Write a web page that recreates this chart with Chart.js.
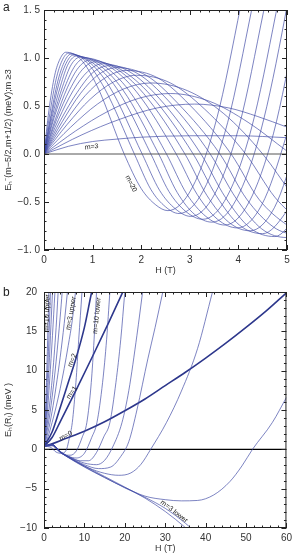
<!DOCTYPE html>
<html>
<head>
<meta charset="utf-8">
<script src="https://cdn.jsdelivr.net/npm/chart.js@4"></script>
<style>
html, body { margin: 0; padding: 0; background: #fff; }
#wrap { position: relative; width: 296px; height: 557px; overflow: hidden; }
canvas { position: absolute; left: 0; }
#ca { top: 0; }
#cb { top: 279px; }
.lett { position: absolute; left: 3px; font: 12px "Liberation Sans", Arial, sans-serif; color: #222; }
</style>
</head>
<body>
<div id="wrap">
  <canvas id="ca" width="296" height="279"></canvas>
  <canvas id="cb" width="296" height="278"></canvas>
  <div class="lett" style="top:0px">a</div>
  <div class="lett" style="top:285px">b</div>
</div>
<script>
// ---- panel a : E_h^-(m-5/2, m+1/2), one curve per m, [H (T), E (meV)] ----
const a_m20 = [[0,0],[0.1,0.45],[0.22,0.82],[0.33,0.99],[0.45,1.06],[0.75,0.99],[1.1,0.7],[1.65,0],[2.0,-0.36],[2.3,-0.53],[2.55,-0.59],[3.05,-0.35],[3.55,0.36],[4.05,1.55],[4.2,1.95]];
const a_m19 = [[0,0],[0.12,0.42],[0.25,0.78],[0.37,0.97],[0.5,1.05],[0.85,0.97],[1.25,0.68],[1.86,0],[2.2,-0.37],[2.5,-0.55],[2.78,-0.62],[3.28,-0.38],[3.78,0.33],[4.28,1.52],[4.45,1.95]];
const a_m18 = [[0,0],[0.14,0.4],[0.28,0.75],[0.41,0.95],[0.55,1.04],[0.9,0.97],[1.35,0.7],[2.02,0],[2.38,-0.38],[2.7,-0.57],[3.02,-0.65],[3.52,-0.41],[4.02,0.3],[4.52,1.49],[4.7,1.95]];
const a_m17 = [[0,0],[0.15,0.39],[0.3,0.72],[0.45,0.94],[0.6,1.03],[1.0,0.95],[1.5,0.68],[2.2,0],[2.57,-0.39],[2.92,-0.6],[3.27,-0.68],[3.77,-0.44],[4.27,0.27],[4.77,1.46],[4.95,1.95]];
const a_m16 = [[0,0],[0.17,0.39],[0.34,0.71],[0.5,0.94],[0.67,1.02],[1.1,0.94],[1.62,0.67],[2.36,0],[2.74,-0.4],[3.1,-0.63],[3.46,-0.71],[3.96,-0.47],[4.46,0.24],[4.96,1.43],[5.1,1.85]];
const a_m15 = [[0,0],[0.19,0.38],[0.38,0.7],[0.56,0.93],[0.75,1.01],[1.2,0.93],[1.75,0.66],[2.52,0],[2.93,-0.41],[3.33,-0.65],[3.72,-0.74],[4.22,-0.5],[4.72,0.21],[5.22,1.4]];
const a_m14 = [[0,0],[0.21,0.38],[0.43,0.7],[0.64,0.92],[0.85,1.0],[1.32,0.92],[1.9,0.65],[2.72,0],[3.15,-0.42],[3.57,-0.68],[3.98,-0.77],[4.48,-0.53],[4.98,0.18],[5.3,0.8]];
const a_m13 = [[0,0],[0.24,0.37],[0.48,0.69],[0.71,0.9],[0.95,0.98],[1.45,0.9],[2.05,0.63],[2.9,0],[3.35,-0.43],[3.8,-0.71],[4.24,-0.8],[4.74,-0.56],[5.24,0.15]];
const a_m12 = [[0,0],[0.26,0.36],[0.53,0.67],[0.79,0.88],[1.05,0.96],[1.58,0.88],[2.2,0.61],[3.07,0],[3.55,-0.44],[4.02,-0.74],[4.5,-0.83],[5.0,-0.59],[5.3,-0.3]];
const a_m11 = [[0,0],[0.3,0.36],[0.6,0.66],[0.9,0.86],[1.2,0.94],[1.75,0.86],[2.37,0.58],[3.23,0],[3.73,-0.45],[4.24,-0.77],[4.75,-0.86],[5.25,-0.62]];
const a_m10 = [[0,0],[0.34,0.35],[0.68,0.64],[1.01,0.85],[1.35,0.92],[1.92,0.84],[2.55,0.56],[3.42,0],[3.95,-0.46],[4.48,-0.78],[5.0,-0.87],[5.3,-0.85]];
const a_m9  = [[0,0],[0.38,0.34],[0.75,0.63],[1.13,0.83],[1.5,0.9],[2.1,0.82],[2.75,0.53],[3.62,0],[4.17,-0.47],[4.72,-0.76],[5.2,-0.86]];
const a_m8  = [[0,0],[0.43,0.33],[0.85,0.61],[1.28,0.8],[1.7,0.87],[2.35,0.79],[3.0,0.51],[3.85,0],[4.42,-0.47],[5.0,-0.74],[5.3,-0.82]];
const a_m7  = [[0,0],[0.48,0.31],[0.95,0.57],[1.43,0.75],[1.9,0.82],[2.6,0.74],[3.3,0.47],[4.15,0],[4.75,-0.45],[5.3,-0.72]];
const a_m6  = [[0,0],[0.55,0.28],[1.1,0.52],[1.65,0.68],[2.2,0.74],[2.95,0.66],[3.7,0.42],[4.5,0],[5.1,-0.42]];
const a_m5  = [[0,0],[0.65,0.24],[1.3,0.44],[1.95,0.58],[2.6,0.63],[3.4,0.55],[4.2,0.33],[5.0,0.03]];
const a_m4  = [[0,0],[0.78,0.2],[1.55,0.36],[2.33,0.48],[3.1,0.52],[3.8,0.48],[4.4,0.39],[5.0,0.28]];
const a_m3  = [[0,0],[0.5,0.08],[1,0.13],[1.5,0.155],[2,0.175],[3,0.19],[4,0.19],[5,0.17]];
const a_zero = [[0,0],[5,0]];

// ---- panel b : E_h(R_l), upper / lower branches ----
const b_up10 = [[0,0.4],[0.3,3.8],[0.6,8.5],[0.9,13.8],[1.2,20],[1.35,23]];
const b_up9  = [[0,0.4],[0.4,3.8],[0.8,8.5],[1.2,13.8],[1.6,20],[1.8,23]];
const b_up8  = [[0,0.4],[0.5,3.7],[1.1,9],[1.6,14.5],[2.1,20],[2.3,22.5]];
const b_up7  = [[0,0.4],[0.7,3.8],[1.4,8.8],[2.1,14.5],[2.7,20],[3,23]];
const b_up6  = [[0,0.4],[1,4],[2,8.8],[3,15.5],[3.5,20],[3.8,22.5]];
const b_up5  = [[0,0.4],[1,3],[2,6.6],[3,11.2],[4,16.8],[4.5,20],[4.8,22]];
const b_up4  = [[0,0.4],[1,2.2],[2,4.8],[3,8],[4,11.7],[5,16],[5.8,20],[6.1,21.5]];
const b_up3  = [[0,0.4],[1,1.6],[2,3.4],[3,5.4],[4,7.7],[5,10.3],[6,13.2],[7,16.4],[7.8,20],[8.2,21.6]];
const b_m2   = [[0,0.4],[2,2.2],[4,5.3],[6,8.5],[8,11.7],[10,15.5],[11.8,20],[12.5,21.5]];
const b_m1   = [[0,0.4],[2,1.5],[4,3.5],[8,7.6],[12,11.8],[16,16.1],[19.5,20],[21,21.7]];
const b_m0   = [[0,0.4],[2,0.7],[5,1.3],[10,2.3],[15,3.5],[20,4.9],[25,6.4],[30,8.1],[35,9.8],[40,11.6],[45,13.5],[50,15.5],[55,17.6],[60,19.9]];
const b_low12 = [[0,0.4],[1.5,0.3],[3,-0.35],[4.3,-0.5],[5.5,-0.1],[6.3,1.5],[7.0,3.4],[7.9,8.5],[8.6,14],[9.4,20],[9.7,22.5]];
const b_low11 = [[0,0.4],[2,0.45],[3.5,-0.2],[5,-0.7],[6.5,-0.75],[8,-0.2],[9.5,1.6],[10.6,3.4],[11.7,8.5],[12.4,14],[13,20],[13.3,23]];
const b_low10 = [[0,0.4],[2,0.5],[4,-0.35],[6,-0.9],[8,-1.1],[10,-0.5],[11.8,1.5],[13.1,3.4],[14.5,8.5],[15.5,14],[16.3,20],[16.7,23]];
const b_low9  = [[0,0.4],[2,0.55],[4,-0.3],[6.5,-1.0],[9,-1.45],[11,-1.45],[13,-0.4],[14.8,1.6],[16.3,3.4],[17.8,8.5],[19,14],[20,20],[20.5,23]];
const b_low8  = [[0,0.4],[2,0.6],[4,-0.3],[7,-1.15],[10,-1.75],[13,-1.95],[15,-1.4],[17,0.3],[19.3,3.4],[21,7.5],[23,14.5],[24.4,20],[25,22.4]];
const b_low7  = [[0,0.4],[2,0.6],[4,-0.35],[7,-1.25],[10,-1.95],[13.5,-2.45],[16.5,-2.25],[19,-0.9],[21,1.0],[23,5.0],[25.7,11.5],[27.5,15.5],[29.4,20],[30.5,22.6]];
const b_low6  = [[0,0.4],[2,0.6],[4,-0.35],[7,-1.3],[11,-2.35],[15,-3.05],[18.5,-3.3],[21.5,-3.0],[24,-1.9],[26.4,0],[30.3,3.4],[34,7.4],[38,12.8],[41.7,20],[43,22.5]];
const b_low5  = [[0,0.4],[2,0.6],[4,-0.35],[6,-1.05],[10,-2.25],[15,-3.6],[20,-4.85],[25,-5.95],[30,-6.4],[34,-6.55],[38,-6.5],[42,-5.8],[46,-4.1],[49,-2.1],[51.6,0],[56.5,3.4],[60,6.6]];
const b_low4  = [[0,0.4],[2,0.6],[4,-0.3],[6,-1.0],[10,-2.2],[15,-3.55],[20,-4.9],[25,-6.1],[30,-7.5],[35,-9.4],[37,-10.3]];
const b_low3  = [[0,0.4],[2,0.6],[4,-0.25],[6,-0.95],[10,-2.1],[15,-3.45],[20,-4.8],[25,-6.2],[30,-7.9],[35,-9.95],[37,-10.9]];
const b_zero = [[0,0],[60,0]];

// axis ranges and ticks
const aX = [0, 5], aY = [-1, 1.5];
const bX = [0, 60], bY = [-10, 20];

const FONT = '"Liberation Sans", Arial, sans-serif';
const THIN = 'rgba(62,72,165,0.85)';
const THICK = 'rgb(45,55,140)';

function line(pts, color, width) {
    return {
        data: pts.map(p => ({x: p[0], y: p[1]})),
        showLine: true,
        borderColor: color,
        borderWidth: width,
        pointRadius: 0,
        cubicInterpolationMode: 'monotone',
        clip: 0,
        fill: false
    };
}

// frame with inward ticks on all four sides (Mathematica look)
const frameTicks = {
    id: 'frameTicks',
    afterDatasetsDraw(chart, args, o) {
        const {ctx, chartArea: a, scales: {x, y}} = chart;
        ctx.save();
        ctx.strokeStyle = '#222';
        ctx.lineWidth = 1;
        ctx.strokeRect(a.left + 0.5, a.top + 0.5, a.right - a.left - 1, a.bottom - a.top - 1);
        ctx.beginPath();
        let n = Math.round((x.max - x.min) / o.xMinor);
        for (let i = 0; i <= n; i++) {
            const v = x.min + i * o.xMinor;
            const len = Math.abs(v / o.xMajor - Math.round(v / o.xMajor)) < 1e-6 ? 5 : 2.5;
            const px = Math.round(x.getPixelForValue(v)) + 0.5;
            ctx.moveTo(px, a.bottom); ctx.lineTo(px, a.bottom - len);
            ctx.moveTo(px, a.top); ctx.lineTo(px, a.top + len);
        }
        n = Math.round((y.max - y.min) / o.yMinor);
        for (let i = 0; i <= n; i++) {
            const v = y.min + i * o.yMinor;
            const len = Math.abs(v / o.yMajor - Math.round(v / o.yMajor)) < 1e-6 ? 5 : 2.5;
            const py = Math.round(y.getPixelForValue(v)) + 0.5;
            ctx.moveTo(a.left, py); ctx.lineTo(a.left + len, py);
            ctx.moveTo(a.right, py); ctx.lineTo(a.right - len, py);
        }
        ctx.stroke();
        ctx.restore();
    }
};

// small rotated curve labels, placed in data units
const textMarks = {
    id: 'textMarks',
    afterDatasetsDraw(chart, args, o) {
        const {ctx, scales: {x, y}} = chart;
        ctx.save();
        ctx.fillStyle = '#222';
        ctx.font = '7px ' + FONT;
        ctx.textAlign = 'center';
        ctx.textBaseline = 'middle';
        for (const t of o.items) {
            ctx.save();
            ctx.translate(x.getPixelForValue(t.h), y.getPixelForValue(t.e));
            ctx.rotate(t.rot * Math.PI / 180);
            ctx.fillText(t.text, 0, 0);
            ctx.restore();
        }
        ctx.restore();
    }
};

function panel(id, cfg) {
    return new Chart(document.getElementById(id), {
        type: 'scatter',
        data: {datasets: cfg.datasets},
        options: {
            responsive: false,
            animation: false,
            devicePixelRatio: 1,
            layout: {padding: {top: 7, right: 9, left: 0, bottom: 0}},
            plugins: {
                legend: {display: false},
                tooltip: {enabled: false},
                frameTicks: cfg.frame,
                textMarks: {items: cfg.marks}
            },
            scales: {
                x: {
                    type: 'linear', min: cfg.xr[0], max: cfg.xr[1],
                    grid: {display: false, drawTicks: false},
                    border: {display: false},
                    ticks: {stepSize: cfg.frame.xMajor, color: '#333', padding: 4, maxRotation: 0,
                        font: {family: FONT, size: 10}},
                    title: {display: true, text: 'H (T)', color: '#333', padding: {top: 0, bottom: 3},
                        font: {family: FONT, size: 9}},
                    afterFit: s => { s.height = 29; }
                },
                y: {
                    type: 'linear', min: cfg.yr[0], max: cfg.yr[1],
                    grid: {display: false, drawTicks: false},
                    border: {display: false},
                    ticks: {stepSize: cfg.frame.yMajor, color: '#333', padding: cfg.yPad,
                        font: {family: FONT, size: 10}, callback: cfg.yFmt},
                    title: {display: true, text: cfg.yTitle, color: '#333', padding: {top: 3, bottom: 0},
                        font: {family: FONT, size: 9}},
                    afterFit: s => { s.width = 44; }
                }
            }
        },
        plugins: [frameTicks, textMarks]
    });
}

const curvesA = [a_m3, a_m4, a_m5, a_m6, a_m7, a_m8, a_m9, a_m10, a_m11, a_m12,
                 a_m13, a_m14, a_m15, a_m16, a_m17, a_m18, a_m19, a_m20];

panel('ca', {
    xr: aX, yr: aY, yPad: 4,
    yTitle: 'Eₕ⁻(m−5/2,m+1/2) (meV);m ≥3',
    yFmt: v => (v < 0 ? '−' : '') + Math.abs(v).toFixed(1).replace('.', '. '),
    frame: {xMajor: 1, xMinor: 0.2, yMajor: 0.5, yMinor: 0.1},
    marks: [
        {text: 'm=3', h: 0.98, e: 0.075, rot: -6},
        {text: 'm=20', h: 1.79, e: -0.31, rot: 62}
    ],
    datasets: [line(a_zero, '#555', 1)].concat(curvesA.map(c => line(c, THIN, 0.8)))
});

const thinB = [b_up10, b_up9, b_up8, b_up7, b_up6, b_up5, b_up4, b_up3,
               b_low12, b_low11, b_low10, b_low9, b_low8, b_low7, b_low6, b_low5, b_low4, b_low3];
const thickB = [b_m2, b_m1, b_m0];

panel('cb', {
    xr: bX, yr: bY, yPad: 7,
    yTitle: 'Eₕ(Rₗ) (meV )',
    yFmt: v => (v < 0 ? '−' : '') + Math.abs(v),
    frame: {xMajor: 10, xMinor: 2, yMajor: 5, yMinor: 1},
    marks: [
        {text: 'm=10 upper', h: 0.75, e: 17.3, rot: -88},
        {text: 'm=3 upper', h: 6.7, e: 17.3, rot: -80},
        {text: 'm=10 lower', h: 13.1, e: 17.0, rot: -84},
        {text: 'm=2', h: 7.0, e: 11.3, rot: -68},
        {text: 'm=1', h: 6.9, e: 7.2, rot: -55},
        {text: 'm=0', h: 5.4, e: 1.7, rot: -30},
        {text: 'm=3 lower', h: 32.2, e: -7.9, rot: 38}
    ],
    datasets: thinB.map(c => line(c, THIN, 0.8))
        .concat(thickB.map(c => line(c, THICK, 1.6)))
        .concat([line(b_zero, '#000', 1.3)])
});
</script>
</body>
</html>
